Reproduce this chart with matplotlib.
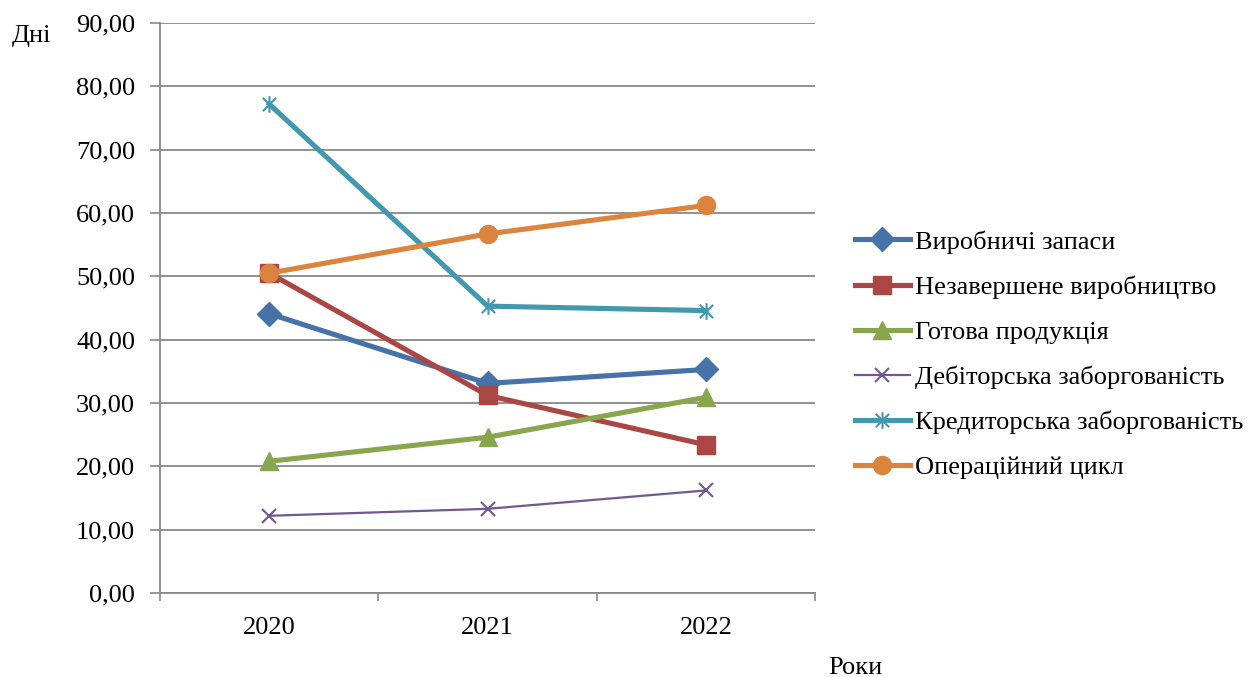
import matplotlib
matplotlib.use("Agg")
import matplotlib.pyplot as plt
from matplotlib.path import Path

plt.rcParams['font.family'] = ['Liberation Serif', 'DejaVu Serif']

years = ["2020", "2021", "2022"]
vyrobnychi = [44.1, 33.1, 35.3]
nezavershene = [50.5, 31.2, 23.4]
gotova = [20.8, 24.6, 30.9]
debitorska = [12.2, 13.3, 16.2]
kredytorska = [77.2, 45.3, 44.6]
operatsiinyi = [50.5, 56.7, 61.2]
y_ticks = [0, 10, 20, 30, 40, 50, 60, 70, 80, 90]

star = Path([(-1, -1), (1, 1), (-1, 1), (1, -1), (0, -1.25), (0, 1.25)],
            [Path.MOVETO, Path.LINETO, Path.MOVETO, Path.LINETO, Path.MOVETO, Path.LINETO])

FS = 19

fig = plt.figure(figsize=(12.6, 6.77), dpi=100)
ax = fig.add_axes([0.127, 0.124, 0.52, 0.842])

x = list(range(len(years)))
series = [
    ("Виробничі запаси", vyrobnychi, "#4572A7", "D", 3.7, 12),
    ("Незавершене виробництво", nezavershene, "#AA4643", "s", 3.7, 12.5),
    ("Готова продукція", gotova, "#89A54E", "^", 3.7, 13),
    ("Дебіторська заборгованість", debitorska, "#71588F", "x", 1.6, 9.5),
    ("Кредиторська заборгованість", kredytorska, "#4198AF", star, 3.7, 12),
    ("Операційний цикл", operatsiinyi, "#DB843D", "o", 3.7, 13),
]
for name, vals, col, mk, lw, ms in series:
    kw = {}
    if mk in ("x",) or mk is star:
        kw = dict(markeredgewidth=1.5, markerfacecolor="none")
    ax.plot(x, vals, color=col, lw=lw, marker=mk, markersize=ms,
            markeredgecolor=col, label=name, zorder=3, **kw)

ax.set_xlim(-0.5, 2.5)
ax.set_ylim(0, 90)
ax.set_yticks(y_ticks)
ax.set_yticklabels([f"{v:.2f}".replace(".", ",") for v in y_ticks])
ax.set_xticks(x)
ax.set_xticklabels(years)
ax.set_xticks([-0.5, 0.5, 1.5, 2.5], minor=True)
ax.tick_params(axis="x", which="major", length=0, pad=17, labelsize=FS)
ax.tick_params(axis="x", which="minor", length=6, color="#888888", width=1.2)
ax.tick_params(axis="y", length=7, color="#888888", width=1.2, labelsize=FS, pad=11)

ax.grid(axis="y", color="#888888", lw=1.3, zorder=0)
for s in ["top", "right"]:
    ax.spines[s].set_visible(False)
for s in ["left", "bottom"]:
    ax.spines[s].set_color("#888888")
    ax.spines[s].set_linewidth(1.3)

fig.text(12 / 1260, 1 - 42 / 677, "Дні", fontsize=FS, va="baseline", ha="left")
fig.text(855 / 1260, 1 - 674 / 677, "Роки", fontsize=FS, va="baseline", ha="center")

leg = ax.legend(loc="center left", bbox_to_anchor=(1.044, 0.418), frameon=False,
                fontsize=FS, handlelength=2.1, labelspacing=0.82, handletextpad=0.2,
                borderaxespad=0)

fig.savefig("out.png", dpi=100)
